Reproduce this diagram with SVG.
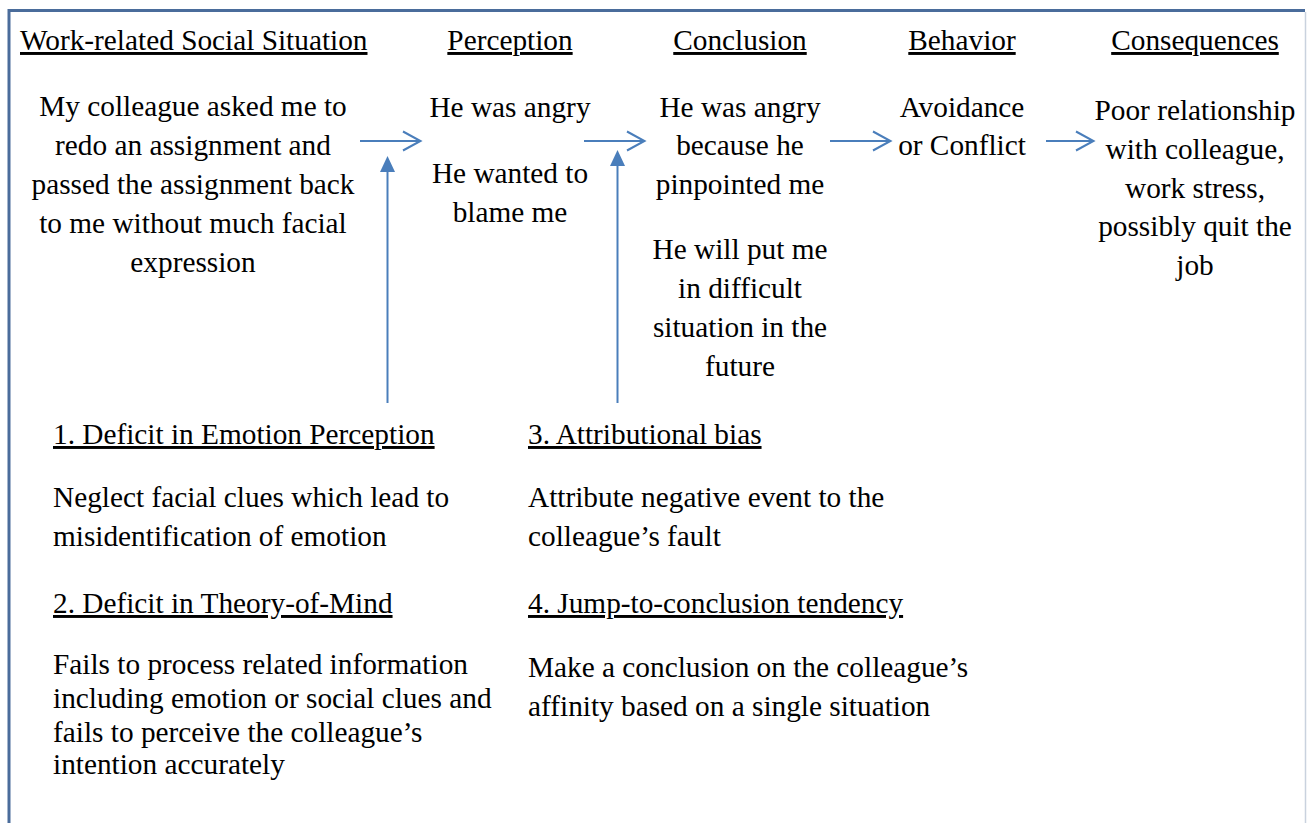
<svg xmlns="http://www.w3.org/2000/svg" width="1307" height="823" viewBox="0 0 1307 823">
<defs>
<style>
text{font-family:"Liberation Serif","Times New Roman",serif;font-size:29.3px;fill:#000}
.c{text-anchor:middle}
.u{text-decoration:underline}
.conn{stroke:#4a7ebb;stroke-width:2;fill:none}
.open{stroke:#4a7ebb;stroke-width:2;fill:none;stroke-linejoin:miter}
.tri{fill:#4a7ebb;stroke:none}
</style>
</defs>
<rect width="1307" height="823" fill="#fff"/>
<g id="frame">
<path d="M9 823 V10.5 H1305" fill="none" stroke="#4a6c9b" stroke-width="3"/>
<path d="M1305.5 12 V823" fill="none" stroke="#c9d2de" stroke-width="1.5"/>
</g>
<g id="node-situation">
<text x="20" y="50" class="u">Work-related Social Situation</text>
<text class="c" x="193" y="116">My colleague asked me to</text>
<text class="c" x="193" y="155">redo an assignment and</text>
<text class="c" x="193" y="194">passed the assignment back</text>
<text class="c" x="193" y="233">to me without much facial</text>
<text class="c" x="193" y="272">expression</text>
</g>
<g id="node-perception">
<text class="c u" x="510" y="50">Perception</text>
<text class="c" x="510" y="116.5">He was angry</text>
<text class="c" x="510" y="182.5">He wanted to</text>
<text class="c" x="510" y="221.5">blame me</text>
</g>
<g id="node-conclusion">
<text class="c u" x="740" y="50">Conclusion</text>
<text class="c" x="740" y="116.5">He was angry</text>
<text class="c" x="740" y="155">because he</text>
<text class="c" x="740" y="194">pinpointed me</text>
<text class="c" x="740" y="258.5">He will put me</text>
<text class="c" x="740" y="297.5">in difficult</text>
<text class="c" x="740" y="336.5">situation in the</text>
<text class="c" x="740" y="375.5">future</text>
</g>
<g id="node-behavior">
<text class="c u" x="962" y="50">Behavior</text>
<text class="c" x="962" y="116.5">Avoidance</text>
<text class="c" x="962" y="155">or Conflict</text>
</g>
<g id="node-consequences">
<text class="c u" x="1195" y="50">Consequences</text>
<text class="c" x="1195" y="120">Poor relationship</text>
<text class="c" x="1195" y="159">with colleague,</text>
<text class="c" x="1195" y="197.5">work stress,</text>
<text class="c" x="1195" y="236">possibly quit the</text>
<text class="c" x="1195" y="275">job</text>
</g>
<g id="node-deficit1">
<text x="53" y="444" class="u">1. Deficit in Emotion Perception</text>
<text x="53" y="507">Neglect facial clues which lead to</text>
<text x="53" y="546">misidentification of emotion</text>
</g>
<g id="node-deficit2">
<text x="53" y="613" class="u">2. Deficit in Theory-of-Mind</text>
<text x="53" y="674">Fails to process related information</text>
<text x="53" y="708">including emotion or social clues and</text>
<text x="53" y="741.5">fails to perceive the colleague’s</text>
<text x="53" y="774">intention accurately</text>
</g>
<g id="node-bias3">
<text x="528" y="444" class="u">3. Attributional bias</text>
<text x="528" y="507">Attribute negative event to the</text>
<text x="528" y="546">colleague’s fault</text>
</g>
<g id="node-bias4">
<text x="528" y="613" class="u">4. Jump-to-conclusion tendency</text>
<text x="528" y="677">Make a conclusion on the colleague’s</text>
<text x="528" y="716">affinity based on a single situation</text>
</g>
<g id="connectors">
<line class="conn" x1="360" y1="141" x2="420" y2="141"/>
<polyline class="open" points="403,131.5 420.5,141 403,150.5"/>
<line class="conn" x1="584" y1="141" x2="644" y2="141"/>
<polyline class="open" points="627,131.5 644.5,141 627,150.5"/>
<line class="conn" x1="830" y1="141" x2="890" y2="141"/>
<polyline class="open" points="873,131.5 890.5,141 873,150.5"/>
<line class="conn" x1="1046" y1="141" x2="1093" y2="141"/>
<polyline class="open" points="1076,131.5 1093.5,141 1076,150.5"/>
<line class="conn" x1="387.5" y1="403" x2="387.5" y2="168"/>
<polygon class="tri" points="387.5,156 380,172 395,172"/>
<line class="conn" x1="617.5" y1="403" x2="617.5" y2="162"/>
<polygon class="tri" points="617.5,150 610,166 625,166"/>
</g>
</svg>
